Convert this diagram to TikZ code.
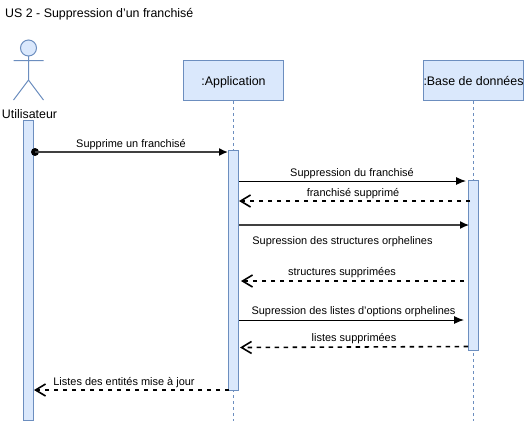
\documentclass[tikz,border=0pt]{standalone}
\usepackage{fontspec}
\setmainfont{Liberation Sans}
\usetikzlibrary{arrows.meta}
\definecolor{boxline}{HTML}{6C8EBF}
\definecolor{boxfill}{HTML}{DAE8FC}
\tikzset{
    x = 1pt, y = -1pt,
    box/.style = {draw = boxline, fill = boxfill, line width = 1pt, inner sep = 0, minimum width = 100pt, minimum height = 40pt, text height = 10pt, text depth = 1pt, font = \fontsize{12.4}{14}\selectfont},
    bar/.style = {draw = boxline, fill = boxfill, line width = 1pt, inner sep = 0, minimum width = 10pt},
    lifeline/.style = {draw = boxline, line width = .8pt, dash pattern = on 3pt off 3pt},
    msg/.style = {inner sep = 0, yshift = -.6pt, font = \fontsize{10.95}{12}\selectfont},
    call/.style = {line width = 1pt, -{Latex[length = 10pt, width = 8pt]}},
    reply/.style = {line width = 1.6pt, dash pattern = on 4.5pt off 4.5pt, -{Straight Barb[length = 10pt, width = 12pt]}}
}

\begin{document}
\begin{tikzpicture}
    \useasboundingbox (0,0) rectangle (526,421);
    \node[anchor = west, inner sep = 0, font = \fontsize{12.4}{14}\selectfont] (title) at (5,14.5) {US 2 - Suppression d'un franchisé};

    \draw[draw = boxline, fill = boxfill, line width = 1pt] (28.5,48) circle (8);
    \draw[draw = boxline, line width = 1pt] (28.5,56) -- (28.5,80) (13.5,60.5) -- (43.5,60.5) (13.5,100) -- (28.5,80) -- (43.5,100);
    \node[inner sep = 0, font = \fontsize{12.4}{14}\selectfont] (user) at (29.5,114) {Utilisateur};

    \node[box] (app) at (233.5,80.5) {:Application};
    \node[box] (db) at (473.5,80.5) {:Base de données};
    \coordinate (append) at (233.5,421);
    \coordinate (dbend) at (473.5,421);
    \draw[lifeline] (app) -- (append);
    \draw[lifeline] (db) -- (dbend);

    \node[bar, minimum height = 300pt] (userbar) at (28.5,270.5) {};
    \node[bar, minimum height = 240pt] (appbar) at (233.5,270.5) {};
    \node[bar, minimum height = 170pt] (dbbar) at (473.5,265.5) {};

    \coordinate (a1) at (35,152);
    \coordinate (b1) at (228,152);
    \fill (a1) circle (4);
    \draw[call, line width = 1.5pt, draw = black!75, arrows = -{Latex[length = 9pt, width = 8pt, black]}] (a1) -- (b1);
    \node[msg] (l1) at (131,143.5) {Supprime un franchisé};

    \coordinate (a2) at (239,181);
    \coordinate (b2) at (466,181);
    \draw[call] (a2) -- (b2);
    \node[msg] (l2) at (352,172.5) {Suppression du franchisé};

    \coordinate (a3) at (470,201);
    \coordinate (b3) at (239,201);
    \draw[reply] (a3) -- (b3);
    \node[msg] (l3) at (353,192.5) {franchisé supprimé};

    \coordinate (a4) at (239,225);
    \coordinate (b4) at (469,225);
    \draw[call, line width = 1.3pt, draw = black!75, arrows = -{Latex[length = 9pt, width = 8pt, black]}] (a4) -- (b4);
    \node[msg] (l4) at (342.5,241.5) {Supression des structures orphelines};

    \coordinate (a5) at (464,281);
    \coordinate (b5) at (241,281);
    \draw[reply] (a5) -- (b5);
    \node[msg] (l5) at (342,271.5) {structures supprimées};

    \coordinate (a6) at (239,320);
    \coordinate (b6) at (464,320);
    \draw[call] (a6) -- (b6);
    \node[msg] (l6) at (353.5,311.5) {Supression des listes d'options orphelines};

    \coordinate (a7) at (468,346.5);
    \coordinate (b7) at (240,347.5);
    \draw[reply] (a7) -- (b7);
    \node[msg] (l7) at (354,337.5) {listes supprimées};

    \coordinate (a8) at (229,390);
    \coordinate (b8) at (34,390);
    \draw[reply] (a8) -- (b8);
    \node[msg] (l8) at (124,381.5) {Listes des entités mise à jour};
\end{tikzpicture}
\end{document}
